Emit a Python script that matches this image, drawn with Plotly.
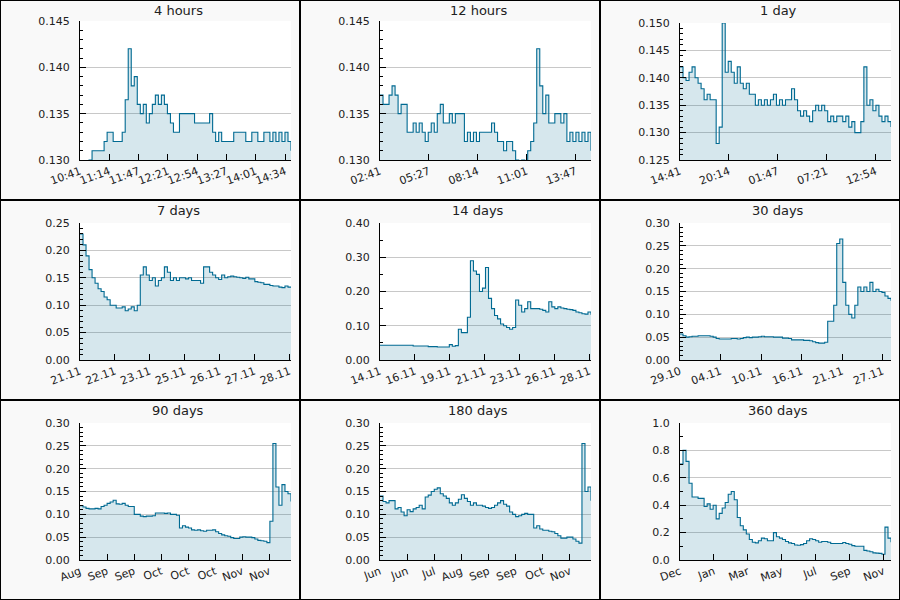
import numpy as np
import plotly.graph_objects as go

LINE = "#006a92"
FILL = "rgba(0, 106, 146, 0.16)"
TXT = "#212121"

titles = ["4 hours", "12 hours", "1 day", "7 days", "14 days", "30 days",
          "90 days", "180 days", "360 days"]

# span of each window (minutes for the first three, hours, then days)
spans = [240, 720, 1440, 168, 336, 30, 90, 180, 360]
tick_steps = [33.33, 166.9, 333.7, 27.79, 55.57, 5.763, 11.53, 23.15, 57.84]

labels_4h = ["10:41", "11:14", "11:47", "12:21", "12:54", "13:27", "14:01", "14:34"]
labels_12h = ["02:41", "05:27", "08:14", "11:01", "13:47"]
labels_1d = ["14:41", "20:14", "01:47", "07:21", "12:54"]
labels_7d = ["21.11", "22.11", "23.11", "25.11", "26.11", "27.11", "28.11"]
labels_14d = ["14.11", "16.11", "19.11", "21.11", "23.11", "26.11", "28.11"]
labels_30d = ["29.10", "04.11", "10.11", "16.11", "21.11", "27.11"]
labels_90d = ["Aug", "Sep", "Sep", "Oct", "Oct", "Oct", "Nov", "Nov"]
labels_180d = ["Jun", "Jun", "Jul", "Aug", "Sep", "Sep", "Oct", "Nov"]
labels_360d = ["Dec", "Jan", "Mar", "May", "Jul", "Sep", "Nov"]

vals_4h = [0.129, 0.129, 0.129, 0.130, 0.131, 0.131, 0.131, 0.131, 0.132, 0.133,
           0.133, 0.132, 0.132, 0.132, 0.133, 0.1365, 0.142, 0.138, 0.139, 0.136,
           0.135, 0.136, 0.134, 0.135, 0.136, 0.137, 0.136, 0.137, 0.136, 0.135,
           0.134, 0.133, 0.133, 0.135, 0.135, 0.135, 0.135, 0.135, 0.134, 0.134,
           0.134, 0.134, 0.134, 0.135, 0.133, 0.132, 0.133, 0.132, 0.132, 0.132,
           0.132, 0.133, 0.133, 0.133, 0.133, 0.132, 0.132, 0.133, 0.133, 0.132,
           0.132, 0.133, 0.133, 0.132, 0.133, 0.132, 0.133, 0.132, 0.133, 0.132,
           0.131]
vals_12h = [0.137, 0.136, 0.136, 0.137, 0.138, 0.137, 0.135, 0.136, 0.136, 0.133,
            0.133, 0.134, 0.133, 0.134, 0.133, 0.132, 0.133, 0.134, 0.133, 0.135,
            0.136, 0.134, 0.134, 0.135, 0.134, 0.135, 0.135, 0.135, 0.132, 0.133,
            0.132, 0.133, 0.132, 0.133, 0.133, 0.133, 0.133, 0.134, 0.133, 0.132,
            0.132, 0.131, 0.132, 0.132, 0.131, 0.130, 0.129, 0.130, 0.129, 0.131,
            0.132, 0.134, 0.142, 0.138, 0.135, 0.137, 0.134, 0.134, 0.135, 0.135,
            0.134, 0.135, 0.132, 0.133, 0.132, 0.133, 0.132, 0.133, 0.132, 0.133,
            0.131]
vals_1d = [0.142, 0.140, 0.1395, 0.141, 0.142, 0.140, 0.139, 0.138, 0.136, 0.137,
           0.136, 0.136, 0.128, 0.131, 0.150, 0.141, 0.143, 0.141, 0.139, 0.142,
           0.139, 0.138, 0.139, 0.137, 0.137, 0.135, 0.136, 0.135, 0.136, 0.135,
           0.136, 0.137, 0.135, 0.136, 0.135, 0.136, 0.136, 0.138, 0.136, 0.134,
           0.133, 0.134, 0.133, 0.132, 0.134, 0.135, 0.134, 0.135, 0.134, 0.132,
           0.133, 0.132, 0.133, 0.133, 0.132, 0.133, 0.131, 0.132, 0.130, 0.130,
           0.132, 0.142, 0.135, 0.136, 0.134, 0.135, 0.133, 0.132, 0.133, 0.132,
           0.131]
vals_7d = [0.230, 0.210, 0.190, 0.165, 0.150, 0.140, 0.130, 0.125, 0.115, 0.110,
           0.100, 0.100, 0.095, 0.095, 0.097, 0.090, 0.093, 0.097, 0.090, 0.100,
           0.155, 0.170, 0.155, 0.145, 0.150, 0.135, 0.145, 0.150, 0.170, 0.160,
           0.145, 0.150, 0.145, 0.150, 0.150, 0.148, 0.150, 0.145, 0.145, 0.145,
           0.140, 0.170, 0.170, 0.160, 0.155, 0.150, 0.147, 0.155, 0.150, 0.152,
           0.153, 0.152, 0.151, 0.150, 0.149, 0.151, 0.148, 0.148, 0.143, 0.142,
           0.141, 0.138, 0.138, 0.136, 0.135, 0.135, 0.133, 0.132, 0.135, 0.133,
           0.132]
vals_14d = [0.043, 0.043, 0.043, 0.043, 0.043, 0.043, 0.043, 0.043, 0.043, 0.043,
            0.043, 0.041, 0.041, 0.041, 0.041, 0.041, 0.039, 0.039, 0.039, 0.038,
            0.038, 0.038, 0.038, 0.045, 0.040, 0.042, 0.090, 0.080, 0.080, 0.125,
            0.290, 0.260, 0.250, 0.200, 0.210, 0.270, 0.180, 0.150, 0.130, 0.120,
            0.105, 0.100, 0.095, 0.090, 0.095, 0.175, 0.160, 0.140, 0.150, 0.170,
            0.150, 0.150, 0.150, 0.148, 0.145, 0.140, 0.170, 0.155, 0.150, 0.155,
            0.152, 0.150, 0.148, 0.147, 0.145, 0.140, 0.138, 0.135, 0.134, 0.140,
            0.132]
vals_30d = [0.057, 0.053, 0.050, 0.051, 0.052, 0.052, 0.053, 0.053, 0.053, 0.053,
            0.052, 0.050, 0.047, 0.046, 0.046, 0.046, 0.046, 0.047, 0.047, 0.046,
            0.047, 0.049, 0.050, 0.049, 0.050, 0.050, 0.051, 0.052, 0.051, 0.051,
            0.051, 0.050, 0.050, 0.050, 0.048, 0.048, 0.047, 0.044, 0.044, 0.044,
            0.044, 0.043, 0.043, 0.042, 0.040, 0.038, 0.037, 0.037, 0.039, 0.085,
            0.085, 0.120, 0.255, 0.265, 0.170, 0.120, 0.100, 0.092, 0.120, 0.160,
            0.150, 0.160, 0.150, 0.170, 0.150, 0.155, 0.150, 0.148, 0.140, 0.135,
            0.130]
vals_90d = [0.119, 0.116, 0.113, 0.112, 0.112, 0.113, 0.112, 0.117, 0.120, 0.124,
            0.127, 0.131, 0.123, 0.122, 0.124, 0.120, 0.117, 0.117, 0.100, 0.100,
            0.096, 0.095, 0.096, 0.096, 0.097, 0.103, 0.103, 0.103, 0.102, 0.103,
            0.100, 0.100, 0.098, 0.070, 0.075, 0.072, 0.070, 0.066, 0.065, 0.066,
            0.064, 0.063, 0.065, 0.065, 0.066, 0.062, 0.058, 0.055, 0.053, 0.052,
            0.049, 0.047, 0.047, 0.050, 0.051, 0.050, 0.050, 0.049, 0.046, 0.043,
            0.042, 0.041, 0.038, 0.085, 0.255, 0.160, 0.120, 0.165, 0.150, 0.145,
            0.128]
vals_180d = [0.140, 0.128, 0.125, 0.130, 0.130, 0.112, 0.115, 0.105, 0.097, 0.110,
             0.106, 0.112, 0.115, 0.120, 0.112, 0.138, 0.142, 0.150, 0.155, 0.158,
             0.145, 0.140, 0.135, 0.125, 0.120, 0.125, 0.133, 0.143, 0.135, 0.128,
             0.120, 0.125, 0.120, 0.120, 0.118, 0.115, 0.113, 0.115, 0.120, 0.125,
             0.130, 0.122, 0.118, 0.105, 0.100, 0.095, 0.097, 0.100, 0.102, 0.100,
             0.100, 0.070, 0.075, 0.068, 0.065, 0.065, 0.063, 0.062, 0.058, 0.053,
             0.048, 0.048, 0.050, 0.050, 0.046, 0.041, 0.037, 0.255, 0.150, 0.160,
             0.130]
vals_360d = [0.70, 0.80, 0.72, 0.56, 0.46, 0.46, 0.45, 0.45, 0.39, 0.41,
             0.37, 0.40, 0.30, 0.34, 0.38, 0.42, 0.48, 0.50, 0.44, 0.31,
             0.25, 0.22, 0.19, 0.15, 0.13, 0.125, 0.14, 0.16, 0.155, 0.14,
             0.14, 0.20, 0.17, 0.16, 0.15, 0.135, 0.125, 0.12, 0.11, 0.108,
             0.112, 0.12, 0.14, 0.155, 0.15, 0.14, 0.13, 0.135, 0.135, 0.13,
             0.12, 0.12, 0.12, 0.12, 0.128, 0.12, 0.115, 0.105, 0.10, 0.10,
             0.10, 0.07, 0.066, 0.06, 0.052, 0.05, 0.048, 0.042, 0.24, 0.16,
             0.13]

series = [vals_4h, vals_12h, vals_1d, vals_7d, vals_14d, vals_30d,
          vals_90d, vals_180d, vals_360d]
tick_labels = [labels_4h, labels_12h, labels_1d, labels_7d, labels_14d, labels_30d,
               labels_90d, labels_180d, labels_360d]

# y axis: range, major step, minor step, format
y_ranges = [(0.130, 0.145), (0.130, 0.145), (0.125, 0.150), (0, 0.25), (0, 0.40),
            (0, 0.30), (0, 0.30), (0, 0.30), (0, 1.0)]
y_dticks = [0.005, 0.005, 0.005, 0.05, 0.10, 0.05, 0.05, 0.05, 0.2]
y_minor = [0.001, 0.001, 0.001, 0.01, 0.05, 0.01, 0.01, 0.01, 0.1]
y_fmt = [".3f", ".3f", ".3f", ".2f", ".2f", ".2f", ".2f", ".2f", ".1f"]

fig = go.Figure()
W, H = 900, 600
layout = {}
annotations = []

for k in range(9):
    r, c = divmod(k, 3)
    n = "" if k == 0 else str(k + 1)
    vals = series[k]
    x = np.linspace(0, spans[k], len(vals))
    fig.add_trace(go.Scatter(
        x=x, y=vals, mode="lines", line=dict(color=LINE, width=1.1, shape="hv"),
        fill="tozeroy", fillcolor=FILL, xaxis="x" + n, yaxis="y" + n,
        showlegend=False, hoverinfo="skip"))

    top_px = 200 * r + (21 if k < 2 else 23)
    bot_px = 200 * r + 160
    x0, x1 = (300 * c + 80) / W, (300 * c + 291) / W
    layout["xaxis" + n] = dict(
        domain=[x0, x1], anchor="y" + n, range=[0, spans[k]],
        tickmode="array", automargin=False,
        tickvals=[i * tick_steps[k] for i in range(len(tick_labels[k]))],
        ticktext=tick_labels[k], tickangle=-20,
        ticks="inside", ticklen=6, tickcolor="black",
        showline=True, linecolor="black", linewidth=1,
        showgrid=False, zeroline=False,
        tickfont=dict(size=11, color=TXT))
    layout["yaxis" + n] = dict(
        domain=[1 - bot_px / H, 1 - top_px / H], anchor="x" + n,
        range=list(y_ranges[k]), tickmode="linear", tick0=y_ranges[k][0],
        dtick=y_dticks[k], tickformat=y_fmt[k], automargin=False,
        ticks="inside", ticklen=6, tickcolor="black",
        minor=dict(dtick=y_minor[k], tick0=y_ranges[k][0], ticks="inside",
                   ticklen=3, tickcolor="black", showgrid=False),
        showline=True, linecolor="black", linewidth=1,
        showgrid=True, gridcolor="#c8c8c8", gridwidth=1, zeroline=False,
        ticklabelstandoff=7,
        tickfont=dict(size=11, color=TXT))

    annotations.append(dict(
        text=titles[k], xref="paper", yref="paper",
        x=(300 * c + 178) / W, y=1 - (200 * r + 10.5) / H,
        xanchor="center", yanchor="middle", showarrow=False,
        font=dict(size=13, color=TXT)))

shapes = []
for i in range(4):
    shapes.append(dict(type="line", xref="paper", yref="paper",
                       x0=i / 3, x1=i / 3, y0=0, y1=1,
                       line=dict(color="black", width=2)))
    shapes.append(dict(type="line", xref="paper", yref="paper",
                       x0=0, x1=1, y0=i / 3, y1=i / 3,
                       line=dict(color="black", width=2)))

fig.update_layout(
    width=W, height=H, margin=dict(l=0, r=0, t=0, b=0, autoexpand=False),
    paper_bgcolor="#f9f9f9", plot_bgcolor="white",
    font=dict(family="DejaVu Sans", color=TXT),
    annotations=annotations, shapes=shapes, **layout)

# drop the default page margin so the figure sits at the window corner
fig.write_html("out.html", config={"displayModeBar": False},
               post_script="document.body.style.margin='0';"
                           "document.body.style.overflow='hidden';")
